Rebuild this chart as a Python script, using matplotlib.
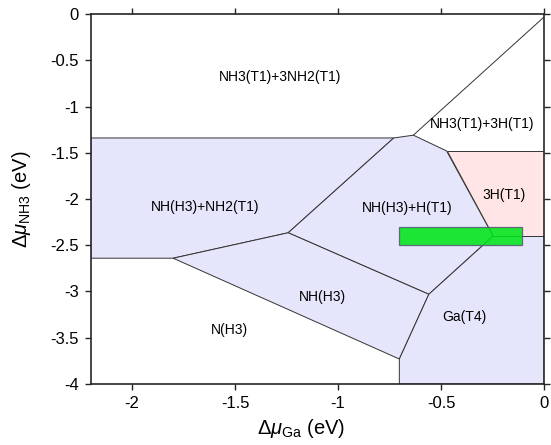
import matplotlib
matplotlib.use("Agg")
import matplotlib.pyplot as plt
from matplotlib.patches import Polygon, Rectangle

plt.rcParams['font.family'] = ['Liberation Sans', 'DejaVu Sans']
plt.rcParams['mathtext.fontset'] = 'custom'
plt.rcParams['mathtext.rm'] = 'Liberation Sans'
plt.rcParams['mathtext.it'] = 'Liberation Sans:italic'
plt.rcParams['axes.unicode_minus'] = False

# ---- data: phase-boundary vertices (dmu_Ga, dmu_NH3) in eV ----
region_nh_nh2 = [(-2.2, -1.34), (-0.73, -1.34), (-1.242, -2.365), (-1.80, -2.64), (-2.2, -2.64)]
region_nh_h = [(-0.73, -1.34), (-0.635, -1.31), (-0.474, -1.48), (-0.248, -2.40),
               (-0.56, -3.03), (-1.242, -2.365)]
region_nh = [(-1.242, -2.365), (-0.56, -3.03), (-0.703, -3.73), (-1.80, -2.64)]
region_ga = [(-0.248, -2.40), (0.0, -2.40), (0.0, -4.0), (-0.703, -4.0),
             (-0.703, -3.73), (-0.56, -3.03)]
region_3h = [(-0.474, -1.48), (0.0, -1.48), (0.0, -2.40), (-0.248, -2.40)]
boundary_nh3 = [(-0.635, -1.31), (0.0, -0.03)]

blue_regions = [region_nh_nh2, region_nh_h, region_nh, region_ga]

window_x = (-0.705, -0.107)
window_y = (-2.497, -2.30)

labels = ["NH3(T1)+3NH2(T1)", "NH3(T1)+3H(T1)", "3H(T1)", "NH(H3)+H(T1)",
          "NH(H3)+NH2(T1)", "NH(H3)", "Ga(T4)", "N(H3)"]
label_x = [-1.282, -0.302, -0.196, -0.665, -1.647, -1.077, -0.386, -1.529]
label_y = [-0.68, -1.19, -1.957, -2.10, -2.083, -3.063, -3.272, -3.416]

xticks = [-2, -1.5, -1, -0.5, 0]
xticklabels = ['-2', '-1.5', '-1', '-0.5', '0']
yticks = [0, -0.5, -1, -1.5, -2, -2.5, -3, -3.5, -4]
yticklabels = ['0', '-0.5', '-1', '-1.5', '-2', '-2.5', '-3', '-3.5', '-4']

fig = plt.figure(figsize=(5.51, 4.45), dpi=100)
ax = fig.add_axes([0.1646, 0.1371, 0.8232, 0.8314])

blue = (0.898, 0.898, 0.984)
pink = (1.0, 0.898, 0.898)
edge = (0.2, 0.2, 0.2)

for reg in blue_regions:
    ax.add_patch(Polygon(reg, closed=True, facecolor=blue, edgecolor=edge, linewidth=0.7, zorder=1))
ax.add_patch(Polygon(region_3h, closed=True, facecolor=pink, edgecolor=edge, linewidth=0.7, zorder=1))
ax.plot([p[0] for p in boundary_nh3], [p[1] for p in boundary_nh3], color=edge, linewidth=0.7, zorder=1)

ax.add_patch(Rectangle((window_x[0], window_y[0]), window_x[1] - window_x[0], window_y[1] - window_y[0],
                       facecolor=(0.0, 0.9, 0.1), edgecolor=(0.35, 0.35, 0.45), linewidth=0.9,
                       alpha=0.88, zorder=2))

for t, x, y in zip(labels, label_x, label_y):
    ax.text(x, y, t, ha='center', va='center', fontsize=10, color='black', zorder=3)

ax.set_xlim(-2.2, 0)
ax.set_ylim(-4, 0)
ax.set_xticks(xticks)
ax.set_xticklabels(xticklabels)
ax.set_yticks(yticks)
ax.set_yticklabels(yticklabels)
ax.tick_params(direction='out', length=4.5, width=1.0, labelsize=12, color=(0.15, 0.15, 0.15),
               top=True, right=True, pad=4)
for s in ax.spines.values():
    s.set_linewidth(1.2)
    s.set_color((0.15, 0.15, 0.15))
    s.set_zorder(4)

ax.set_xlabel(r'$\Delta\mu_{\rm Ga}$ (eV)', fontsize=14.5)
ax.set_ylabel(r'$\Delta\mu_{\rm NH3}$ (eV)', fontsize=14.5)
ax.xaxis.set_label_coords(0.464, -0.088)
ax.yaxis.set_label_coords(-0.127, 0.5)

fig.savefig('out.png', dpi=100)
